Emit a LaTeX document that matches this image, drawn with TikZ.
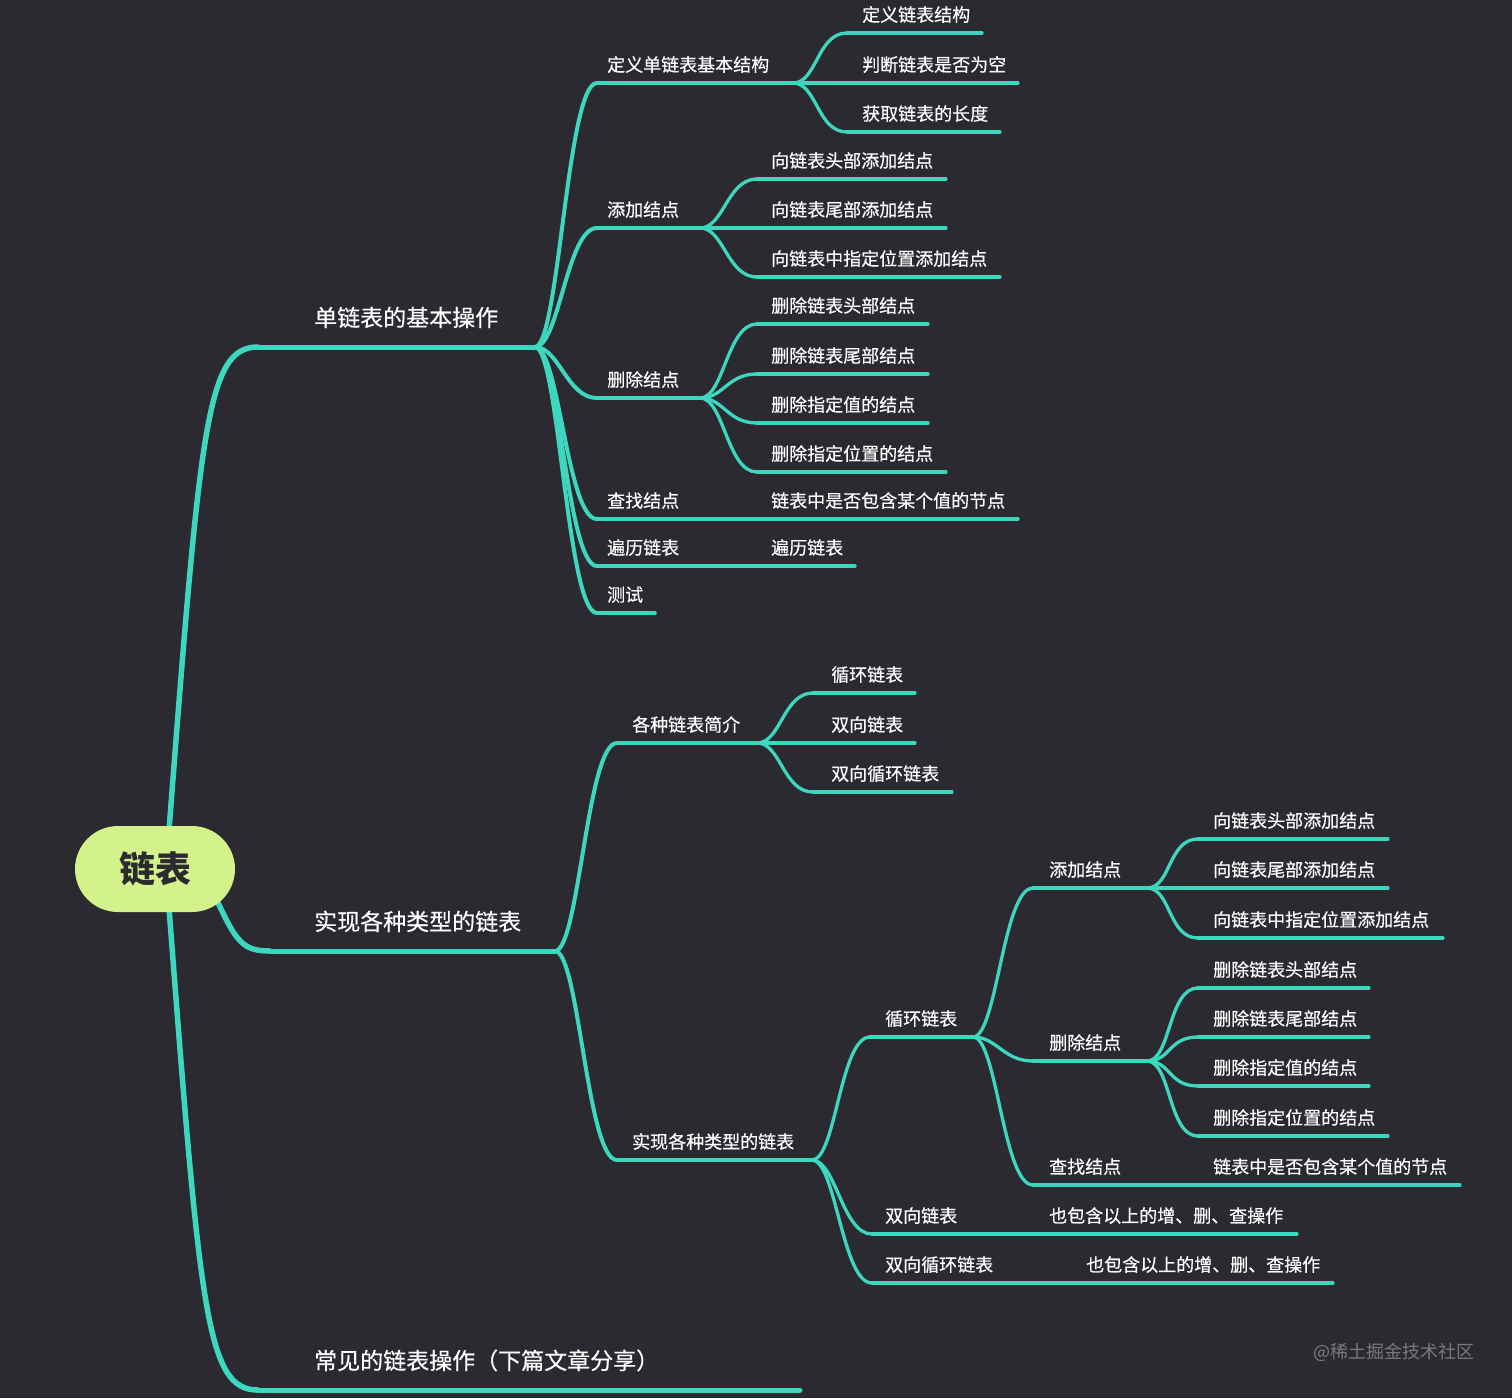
\documentclass[tikz,border=0pt]{standalone}
\usepackage{fontspec}
\setmainfont{Noto Sans CJK SC}
\newfontfamily\medfont{Noto Sans CJK SC}[FakeBold=0.35]
\usetikzlibrary{calc}
\definecolor{bgc}{HTML}{2C2A31}
\definecolor{brc}{HTML}{3DD6BE}
\definecolor{rootc}{HTML}{D3F28B}
\definecolor{roottxt}{HTML}{2B2A2E}
\definecolor{wmc}{HTML}{7A7880}
\pgfdeclarelayer{bgl}
\pgfdeclarelayer{lnl}
\pgfsetlayers{bgl,lnl,main}
% #1 text style, #2 name, #3 text x, #4 underline y, #5 underline start x, #6 underline end x, #7 text, #8 line style
\newcommand\tpc[8]{%
  \node[#1] (#2) at (#3,#4) {#7};
  \coordinate (#2s) at (#5,#4);
  \coordinate (#2e) at (#6,#4);
  \begin{pgfonlayer}{lnl}\draw[#8] (#2s) -- (#2e);\end{pgfonlayer}}
\newcommand\cnx[3]{%
  \begin{pgfonlayer}{lnl}\draw[#1] (#2e) .. controls +(24,0) and +(-30,0) .. (#3s);\end{pgfonlayer}}
\begin{document}
\begin{tikzpicture}[x=1pt,y=-1pt,
  t1/.style={anchor=base west, inner sep=0pt, text=white, yshift=20.8pt, font=\fontsize{23}{25}\medfont},
  t2/.style={anchor=base west, inner sep=0pt, text=white, yshift=11.6pt, font=\fontsize{18}{20}\medfont},
  u1/.style={draw=brc, line width=5pt, line cap=round},
  u2/.style={draw=brc, line width=3.6pt, line cap=round},
  u3/.style={draw=brc, line width=3.3pt, line cap=round},
  c1/.style={draw=brc, line width=5.5pt, line cap=round},
  c2/.style={draw=brc, line width=4pt, line cap=round},
  c3/.style={draw=brc, line width=3.3pt, line cap=round},
  rootbox/.style={fill=rootc, rounded corners=43pt, minimum width=160pt, minimum height=86pt, inner sep=0pt, text=roottxt, font=\fontsize{36}{38}\selectfont\bfseries},
  wm/.style={anchor=east, inner sep=0pt, text=wmc, font=\fontsize{18}{20}\selectfont}]
\begin{pgfonlayer}{bgl}
\fill[bgc] (0,0) rectangle (1512,1398);
\end{pgfonlayer}
\useasboundingbox (0,0) rectangle (1512,1398);

\node[rootbox] (root) at (155,869) {链表};

% level 1
\tpc{t1}{A}{314}{347}{258}{535}{单链表的基本操作}{u1}
\tpc{t1}{B}{314}{951}{270}{555}{实现各种类型的链表}{u1}
\tpc{t1}{C}{314}{1390}{258}{800}{常见的链表操作（下篇文章分享）}{u1}

\begin{pgfonlayer}{lnl}
\draw[c1] ([xshift=11pt]root.center) .. controls (200,430) and +(-53,0) .. (As);
\draw[c1] ([xshift=11pt]root.center) .. controls (200,1310) and +(-53,0) .. (Cs);
\draw[c1] ([xshift=55pt,yshift=-16pt]root.center) .. controls (235,940) and +(-30,0) .. (Bs);
\end{pgfonlayer}

% level 2 under A
\tpc{t2}{A1}{607}{83}{597}{793}{定义单链表基本结构}{u2}
\tpc{t2}{A2}{607}{228}{597}{700}{添加结点}{u2}
\tpc{t2}{A3}{607}{398}{597}{700}{删除结点}{u2}
\tpc{t2}{A4}{607}{519}{597}{757}{查找结点}{u2}
\tpc{t2}{A5}{607}{566}{597}{757}{遍历链表}{u2}
\tpc{t2}{A6}{607}{613}{597}{655}{测试}{u2}
\cnx{c2}{A}{A1}\cnx{c2}{A}{A2}\cnx{c2}{A}{A3}\cnx{c2}{A}{A4}\cnx{c2}{A}{A5}\cnx{c2}{A}{A6}

% level 3 under A
\tpc{t2}{A1a}{862}{33}{847}{982}{定义链表结构}{u3}
\tpc{t2}{A1b}{862}{83}{847}{1018}{判断链表是否为空}{u3}
\tpc{t2}{A1c}{862}{132}{847}{1000}{获取链表的长度}{u3}
\tpc{t2}{A2a}{771}{179}{757}{946}{向链表头部添加结点}{u3}
\tpc{t2}{A2b}{771}{228}{757}{946}{向链表尾部添加结点}{u3}
\tpc{t2}{A2c}{771}{277}{757}{1000}{向链表中指定位置添加结点}{u3}
\tpc{t2}{A3a}{771}{324}{757}{928}{删除链表头部结点}{u3}
\tpc{t2}{A3b}{771}{374}{757}{928}{删除链表尾部结点}{u3}
\tpc{t2}{A3c}{771}{423}{757}{928}{删除指定值的结点}{u3}
\tpc{t2}{A3d}{771}{472}{757}{946}{删除指定位置的结点}{u3}
\tpc{t2}{A4a}{771}{519}{757}{1018}{链表中是否包含某个值的节点}{u3}
\tpc{t2}{A5a}{771}{566}{757}{855}{遍历链表}{u3}
\cnx{c3}{A1}{A1a}\cnx{c3}{A1}{A1b}\cnx{c3}{A1}{A1c}
\cnx{c3}{A2}{A2a}\cnx{c3}{A2}{A2b}\cnx{c3}{A2}{A2c}
\cnx{c3}{A3}{A3a}\cnx{c3}{A3}{A3b}\cnx{c3}{A3}{A3c}\cnx{c3}{A3}{A3d}
\cnx{c3}{A4}{A4a}\cnx{c3}{A5}{A5a}

% level 2 under B
\tpc{t2}{B1}{632}{743}{617}{757}{各种链表简介}{u2}
\tpc{t2}{B2}{632}{1160}{617}{812}{实现各种类型的链表}{u2}
\cnx{c2}{B}{B1}\cnx{c2}{B}{B2}

\tpc{t2}{B1a}{831}{693}{813}{915}{循环链表}{u3}
\tpc{t2}{B1b}{831}{743}{813}{915}{双向链表}{u3}
\tpc{t2}{B1c}{831}{792}{813}{952}{双向循环链表}{u3}
\cnx{c3}{B1}{B1a}\cnx{c3}{B1}{B1b}\cnx{c3}{B1}{B1c}

\tpc{t2}{B2a}{885}{1037}{870}{973}{循环链表}{u3}
\tpc{t2}{B2b}{885}{1234}{872}{1040}{双向链表}{u3}
\tpc{t2}{B2c}{885}{1283}{872}{1075}{双向循环链表}{u3}
\cnx{c3}{B2}{B2a}\cnx{c3}{B2}{B2b}\cnx{c3}{B2}{B2c}
\tpc{t2}{B2b1}{1049}{1234}{1040}{1297}{也包含以上的增、删、查操作}{u3}
\tpc{t2}{B2c1}{1086}{1283}{1075}{1333}{也包含以上的增、删、查操作}{u3}
\cnx{c3}{B2b}{B2b1}\cnx{c3}{B2c}{B2c1}

\tpc{t2}{B2a1}{1049}{888}{1033}{1147}{添加结点}{u3}
\tpc{t2}{B2a2}{1049}{1061}{1033}{1147}{删除结点}{u3}
\tpc{t2}{B2a3}{1049}{1185}{1033}{1198}{查找结点}{u3}
\cnx{c3}{B2a}{B2a1}\cnx{c3}{B2a}{B2a2}\cnx{c3}{B2a}{B2a3}

\tpc{t2}{B2a1a}{1213}{839}{1198}{1388}{向链表头部添加结点}{u3}
\tpc{t2}{B2a1b}{1213}{888}{1198}{1388}{向链表尾部添加结点}{u3}
\tpc{t2}{B2a1c}{1213}{938}{1198}{1443}{向链表中指定位置添加结点}{u3}
\cnx{c3}{B2a1}{B2a1a}\cnx{c3}{B2a1}{B2a1b}\cnx{c3}{B2a1}{B2a1c}

\tpc{t2}{B2a2a}{1213}{988}{1198}{1369}{删除链表头部结点}{u3}
\tpc{t2}{B2a2b}{1213}{1037}{1198}{1369}{删除链表尾部结点}{u3}
\tpc{t2}{B2a2c}{1213}{1086}{1198}{1369}{删除指定值的结点}{u3}
\tpc{t2}{B2a2d}{1213}{1136}{1198}{1388}{删除指定位置的结点}{u3}
\cnx{c3}{B2a2}{B2a2a}\cnx{c3}{B2a2}{B2a2b}\cnx{c3}{B2a2}{B2a2c}\cnx{c3}{B2a2}{B2a2d}

\tpc{t2}{B2a3a}{1213}{1185}{1198}{1460}{链表中是否包含某个值的节点}{u3}
\cnx{c3}{B2a3}{B2a3a}

\node[wm] (wmk) at (1475,1352) {@稀土掘金技术社区};
\end{tikzpicture}
\end{document}
